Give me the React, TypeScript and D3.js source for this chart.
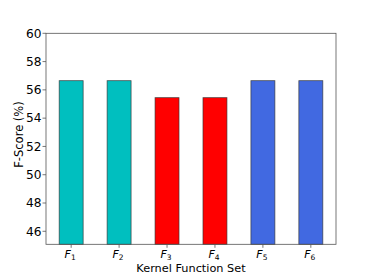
import { useEffect, useRef } from "react";
import * as d3 from "d3";

const kernels = ["1", "2", "3", "4", "5", "6"];
const fscores = [56.65, 56.65, 55.45, 55.45, 56.65, 56.65];
const barColors = ["#00bfbf", "#00bfbf", "#ff0000", "#ff0000", "#4169e1", "#4169e1"];
const yTicks = [46, 48, 50, 52, 54, 56, 58, 60];

export default function App() {
  const svgRef = useRef<SVGSVGElement>(null);

  useEffect(() => {
    const svg = d3.select(svgRef.current);
    svg.selectAll("*").remove();

    const left = 46;
    const right = 336;
    const top = 33.3;
    const bottom = 244.3;
    const font = "DejaVu Sans, sans-serif";

    const x = d3.scaleLinear().domain([-0.525, 5.525]).range([left, right]);
    const y = d3.scaleLinear().domain([45.08, 60]).range([bottom, top]);

    const g = svg.append("g");

    g.selectAll("rect.bar")
      .data(fscores)
      .enter()
      .append("rect")
      .attr("class", "bar")
      .attr("x", (d, i) => x(i - 0.25))
      .attr("y", (d) => y(d))
      .attr("width", x(0.25) - x(-0.25))
      .attr("height", (d) => bottom - y(d))
      .attr("fill", (d, i) => barColors[i])
      .attr("stroke", "#333")
      .attr("stroke-opacity", 0.8)
      .attr("stroke-width", 0.8);

    // frame
    g.append("rect")
      .attr("x", left)
      .attr("y", top)
      .attr("width", right - left)
      .attr("height", bottom - top)
      .attr("fill", "none")
      .attr("stroke", "#555")
      .attr("stroke-width", 0.8);

    // y ticks
    const yt = g.selectAll("g.yt").data(yTicks).enter().append("g");
    yt.append("line")
      .attr("x1", left - 3.5)
      .attr("x2", left)
      .attr("y1", (d) => y(d))
      .attr("y2", (d) => y(d))
      .attr("stroke", "#555")
      .attr("stroke-width", 0.8);
    yt.append("text")
      .attr("x", left - 4.5)
      .attr("y", (d) => y(d) + 4.3)
      .attr("text-anchor", "end")
      .attr("font-family", font)
      .attr("font-size", 12.2)
      .attr("fill", "#000")
      .text((d) => d);

    // x ticks
    const xt = g.selectAll("g.xt").data(kernels).enter().append("g");
    xt.append("line")
      .attr("x1", (d, i) => x(i))
      .attr("x2", (d, i) => x(i))
      .attr("y1", bottom)
      .attr("y2", bottom + 3.5)
      .attr("stroke", "#555")
      .attr("stroke-width", 0.8);
    const lab = xt
      .append("text")
      .attr("x", (d, i) => x(i) - 1)
      .attr("y", bottom + 14)
      .attr("text-anchor", "middle")
      .attr("font-family", font)
      .attr("fill", "#000");
    lab.append("tspan").attr("font-style", "italic").attr("font-size", 11).text("F");
    lab.append("tspan").attr("font-size", 7.5).attr("dy", 1.8).text((d) => d);

    g.append("text")
      .attr("x", (left + right) / 2)
      .attr("y", 272)
      .attr("text-anchor", "middle")
      .attr("font-family", font)
      .attr("font-size", 11.3)
      .text("Kernel Function Set");

    g.append("text")
      .attr("transform", `translate(23,134.5) rotate(-90)`)
      .attr("text-anchor", "middle")
      .attr("font-family", font)
      .attr("font-size", 11.5)
      .text("F-Score (%)");
  }, []);

  return (
    <svg
      ref={svgRef}
      width={374}
      height={280}
      style={{ position: "absolute", left: 0, top: 0, background: "#fff" }}
    />
  );
}
